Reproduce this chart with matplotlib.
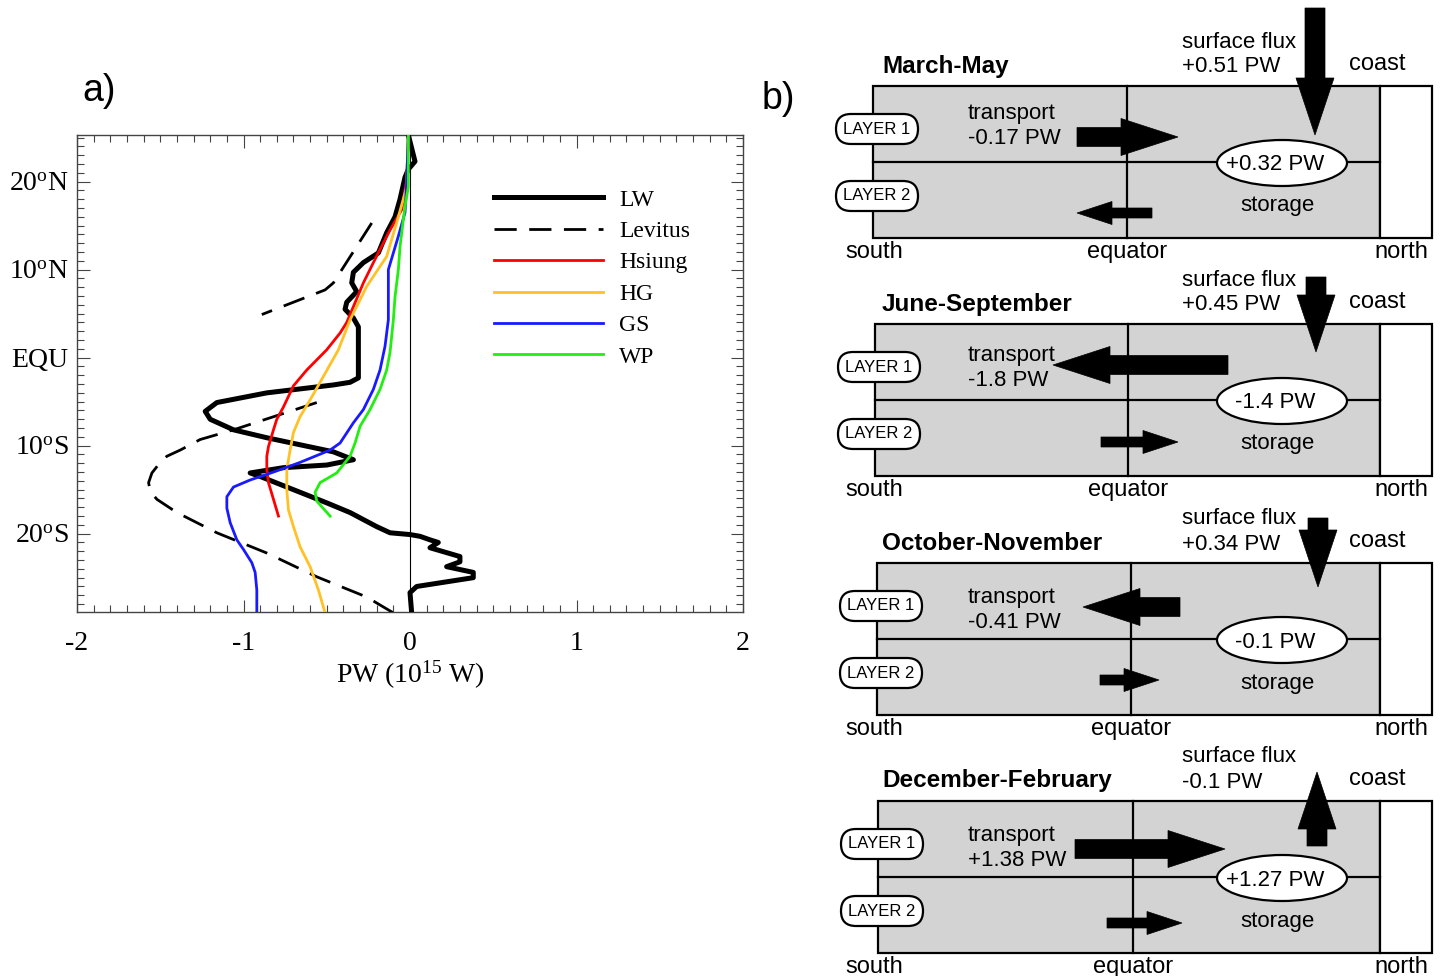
import numpy as np
import matplotlib
matplotlib.use("Agg")
import matplotlib.pyplot as plt
from matplotlib.patches import Polygon, Ellipse, Rectangle, FancyBboxPatch
from matplotlib.ticker import MultipleLocator

plt.rcParams['mathtext.fontset'] = 'custom'
plt.rcParams['mathtext.rm'] = 'Liberation Serif'
plt.rcParams['mathtext.it'] = 'Liberation Serif:italic'
SERIF = 'Liberation Serif'
SANS = 'Liberation Sans'

# ---- panel a data: heat transport (PW) against latitude ----
lw_pw = [-0.01, 0.03, -0.01, -0.03, -0.06, -0.09, -0.14, -0.19, -0.28, -0.34, -0.35, -0.32, -0.38,
         -0.39, -0.34, -0.31, -0.31, -0.36, -0.46, -0.86, -1.16, -1.23, -1.20, -1.06, -0.86, -0.66,
         -0.46, -0.34, -0.50, -0.76, -0.96, -0.90, -0.74, -0.66, -0.50, -0.36, -0.20, -0.12, 0.00,
         0.06, 0.12, 0.17, 0.12, 0.30, 0.30, 0.22, 0.38, 0.38, 0.04, 0.00, 0.01]
lw_lat = [25.3, 22.3, 21.4, 20.5, 18.0, 16.0, 14.2, 11.9, 10.8, 9.7, 8.5, 7.5, 6.3, 5.5, 4.5, 3.5,
          -2.3, -2.8, -3.1, -4.0, -5.1, -6.1, -7.0, -8.2, -9.1, -9.9, -10.7, -11.6, -12.2, -12.5,
          -13.1, -13.5, -14.7, -15.3, -16.5, -17.6, -19.2, -19.9, -20.1, -20.3, -20.7, -21.0, -21.6,
          -22.6, -23.2, -23.75, -24.4, -25.0, -26.0, -26.7, -29.0]

lev_pw = [-0.23, -0.46, -0.51, -0.89, np.nan, -0.56, -1.06, -1.26, -1.38, -1.46, -1.50, -1.55,
          -1.57, -1.56, -1.52, -1.40, -1.16, -0.86, -0.56, -0.26, -0.10]
lev_lat = [15.3, 8.5, 7.7, 4.9, np.nan, -5.1, -8.2, -9.3, -10.5, -11.2, -11.9, -13.1, -14.2,
           -15.2, -16.1, -17.6, -19.9, -22.2, -24.9, -27.2, -29.0]

hs_pw = [-0.01, -0.02, -0.05, -0.12, -0.18, -0.22, -0.28, -0.34, -0.38, -0.42, -0.50, -0.62, -0.70,
         -0.76, -0.80, -0.82, -0.85, -0.86, -0.86, -0.85, -0.82, -0.79]
hs_lat = [25.3, 20.2, 16.8, 14.5, 12.3, 10.8, 8.5, 5.8, 4.0, 2.8, 0.9, -1.4, -3.2, -5.6, -7.0,
          -8.2, -10.1, -11.2, -12.7, -14.2, -16.1, -18.0]

hg_pw = [-0.01, -0.02, -0.07, -0.14, -0.26, -0.36, -0.43, -0.54, -0.60, -0.66, -0.70, -0.72, -0.74,
         -0.74, -0.73, -0.70, -0.66, -0.60, -0.55, -0.51]
hg_lat = [25.3, 19.4, 16.0, 11.5, 8.1, 4.3, 0.9, -2.8, -4.8, -6.7, -8.5, -10.5, -12.7, -15.0,
          -17.3, -19.2, -21.5, -23.75, -26.4, -29.0]

gs_pw = [-0.01, -0.02, -0.03, -0.07, -0.10, -0.13, -0.13, -0.13, -0.13, -0.15, -0.18, -0.22, -0.28,
         -0.34, -0.42, -0.48, -0.66, -0.82, -0.96, -1.06, -1.10, -1.10, -1.08, -1.04, -1.00, -0.95,
         -0.93, -0.92, -0.92]
gs_lat = [25.3, 19.9, 16.5, 13.8, 11.9, 10.0, 8.1, 5.8, 4.3, 1.3, -1.4, -3.6, -5.9, -7.4, -9.7,
          -10.5, -11.9, -13.0, -13.9, -14.7, -15.8, -17.1, -18.75, -20.7, -21.8, -23.3, -24.4,
          -26.4, -29.0]

wp_pw = [-0.01, -0.01, -0.03, -0.04, -0.06, -0.07, -0.09, -0.10, -0.12, -0.14, -0.18, -0.24,
         -0.30, -0.33, -0.36, -0.44, -0.54, -0.57, -0.56, -0.48]
wp_lat = [25.3, 19.4, 17.2, 15.7, 12.6, 10.0, 6.9, 4.3, 0.6, -1.4, -3.6, -5.9, -7.8, -9.7, -11.2,
          -13.1, -14.2, -15.3, -16.3, -18.0]

ytick_vals = [-20, -10, 0, 10, 20]
ytick_labels = [r'20$^{\rm o}$S', r'10$^{\rm o}$S', 'EQU', r'10$^{\rm o}$N', r'20$^{\rm o}$N']
xtick_vals = [-2, -1, 0, 1, 2]

# ---- panel b data: seasonal heat budget ----
seasons = ['March-May', 'June-September', 'October-November', 'December-February']
surface_flux = ['+0.51 PW', '+0.45 PW', '+0.34 PW', '-0.1 PW']
transport = ['-0.17 PW', '-1.8 PW', '-0.41 PW', '+1.38 PW']
storage = ['+0.32 PW', '-1.4 PW', '-0.1 PW', '+1.27 PW']

# schematic layout (pixels)
box_top = [86, 324, 563, 801]
box_left = [873, 875, 877, 878]
equator_x = [1127, 1128, 1131, 1133]
transport_dy = [27, 31, 34, 34]
# arrows: (tail, tip, offset from box top)
layer1_arrow = [(1077, 1178, 51), (1228, 1053, 41), (1180, 1083, 44), (1075, 1225, 48)]
layer2_arrow = [(1152, 1077, 127), (1101, 1178, 118), (1100, 1159, 117), (1107, 1182, 122)]
flux_arrow = [(1315, -78, 49), (1316, -47, 28), (1318, -45, 24), (1317, 45, -29)]

fig = plt.figure(figsize=(14.41, 9.76), dpi=100)

# ================= panel a =================
ax = fig.add_axes([77 / 1441, 1 - 612 / 976, 666 / 1441, 477 / 976])
ax.axvline(0, color='k', lw=0.8, zorder=1)
ax.plot(lw_pw, lw_lat, color='k', lw=3.6, label='LW', zorder=3, solid_joinstyle='round')
ax.plot(lev_pw, lev_lat, color='k', lw=2.0, ls=(0, (8, 4.5)), label='Levitus', zorder=3)
ax.plot(hs_pw, hs_lat, color='#ff0000', lw=2.0, label='Hsiung', zorder=4)
ax.plot(hg_pw, hg_lat, color='#ffc125', lw=2.0, label='HG', zorder=4)
ax.plot(gs_pw, gs_lat, color='#1a1aff', lw=2.0, label='GS', zorder=4)
ax.plot(wp_pw, wp_lat, color='#22ee11', lw=2.0, label='WP', zorder=4)

ax.set_xlim(-2, 2)
ax.set_ylim(-28.9, 25.3)
ax.set_xticks(xtick_vals)
ax.set_xticklabels([str(v) for v in xtick_vals], fontfamily=SERIF, fontsize=20)
ax.set_yticks(ytick_vals)
ax.set_yticklabels(ytick_labels, fontfamily=SERIF, fontsize=20)
ax.xaxis.set_minor_locator(MultipleLocator(0.1))
ax.yaxis.set_minor_locator(MultipleLocator(1))
ax.tick_params(which='both', direction='in', top=True, right=True, color='#444444', width=0.8)
ax.tick_params(which='major', length=9)
ax.tick_params(which='minor', length=5)
ax.tick_params(axis='x', pad=14)
ax.tick_params(axis='y', pad=6)
for s in ax.spines.values():
    s.set_linewidth(1.0)
    s.set_color('#444444')
ax.set_xlabel(r'PW (10$^{15}$ W)', fontfamily=SERIF, fontsize=20, labelpad=2)

leg = ax.legend(loc='upper left', bbox_to_anchor=((494 - 77) / 666, (612 - 189) / 477),
                frameon=False, prop={'family': SERIF, 'size': 17}, handlelength=4.6,
                handletextpad=0.7, labelspacing=0.42, borderpad=0, borderaxespad=0)

# ================= panel b =================
axb = fig.add_axes([0, 0, 1, 1])
axb.set_xlim(0, 1441)
axb.set_ylim(976, 0)
axb.axis('off')


def h_arrow(tail, tip, y, shaft_h, head_h, head_len):
    d = np.sign(tip - tail)
    base = tip - d * head_len
    pts = [(tail, y - shaft_h / 2), (base, y - shaft_h / 2), (base, y - head_h / 2), (tip, y),
           (base, y + head_h / 2), (base, y + shaft_h / 2), (tail, y + shaft_h / 2)]
    axb.add_patch(Polygon(pts, closed=True, fc='k', ec='k', lw=0.5, zorder=6))


def v_arrow(x, tail, tip, shaft_w, head_w, head_len):
    d = np.sign(tip - tail)
    base = tip - d * head_len
    pts = [(x - shaft_w / 2, tail), (x - shaft_w / 2, base), (x - head_w / 2, base), (x, tip),
           (x + head_w / 2, base), (x + shaft_w / 2, base), (x + shaft_w / 2, tail)]
    axb.add_patch(Polygon(pts, closed=True, fc='k', ec='k', lw=0.5, zorder=6))


BOX_H = 152
GRAY_R = 1380
COAST_R = 1432
for i, name in enumerate(seasons):
    top = box_top[i]
    left = box_left[i]
    mid = top + BOX_H / 2
    axb.add_patch(Rectangle((left, top), GRAY_R - left, BOX_H, fc='#d3d3d3', ec='k', lw=1.6, zorder=1))
    axb.add_patch(Rectangle((GRAY_R, top), COAST_R - GRAY_R, BOX_H, fc='white', ec='k', lw=1.6, zorder=1))
    axb.plot([left, GRAY_R], [mid, mid], color='k', lw=1.6, zorder=2)
    axb.plot([equator_x[i], equator_x[i]], [top, top + BOX_H], color='k', lw=1.6, zorder=2)

    for k, cy in enumerate([top + 43, top + 110]):
        axb.add_patch(FancyBboxPatch((left + 4 - 41, cy - 15), 82, 30,
                                     boxstyle='round,pad=0,rounding_size=15',
                                     fc='white', ec='k', lw=1.6, zorder=3))
        axb.text(left + 4, cy, 'LAYER %d' % (k + 1), ha='center', va='center',
                 fontfamily=SANS, fontsize=12, zorder=4)

    axb.add_patch(Ellipse((1282, mid + 1), 130, 46, fc='white', ec='k', lw=1.6, zorder=4))
    axb.text(1275, mid + 3, storage[i], ha='center', va='center', fontfamily=SANS, fontsize=16, zorder=5)
    axb.text(1277, top + 120, 'storage', ha='center', va='center', fontfamily=SANS, fontsize=16)

    axb.text(882, top - 20, name, ha='left', va='center', fontfamily=SANS, fontsize=17.5,
             fontweight='bold')
    axb.text(1182, top - 44, 'surface flux', ha='left', va='center', fontfamily=SANS, fontsize=16)
    axb.text(1182, top - 19, surface_flux[i], ha='left', va='center', fontfamily=SANS, fontsize=16)
    axb.text(1349, top - 22, 'coast', ha='left', va='center', fontfamily=SANS, fontsize=17)

    axb.text(968, top + transport_dy[i], 'transport', ha='left', va='center', fontfamily=SANS, fontsize=16)
    axb.text(968, top + transport_dy[i] + 25, transport[i], ha='left', va='center',
             fontfamily=SANS, fontsize=16)

    axb.text(845, top + 166, 'south', ha='left', va='center', fontfamily=SANS, fontsize=17)
    axb.text(equator_x[i], top + 166, 'equator', ha='center', va='center', fontfamily=SANS, fontsize=17)
    axb.text(1428, top + 166, 'north', ha='right', va='center', fontfamily=SANS, fontsize=17)

    t1, p1, dy1 = layer1_arrow[i]
    h_arrow(t1, p1, top + dy1, 19, 37, 57)
    t2, p2, dy2 = layer2_arrow[i]
    h_arrow(t2, p2, top + dy2, 10, 23, 35)
    fx, ft, fp = flux_arrow[i]
    v_arrow(fx, top + ft, top + fp, 20, 38, 57)

axb.text(99, 91, 'a)', ha='center', va='center', fontfamily=SANS, fontsize=27)
axb.text(778, 99, 'b)', ha='center', va='center', fontfamily=SANS, fontsize=27)

fig.savefig('out.png', dpi=100)
